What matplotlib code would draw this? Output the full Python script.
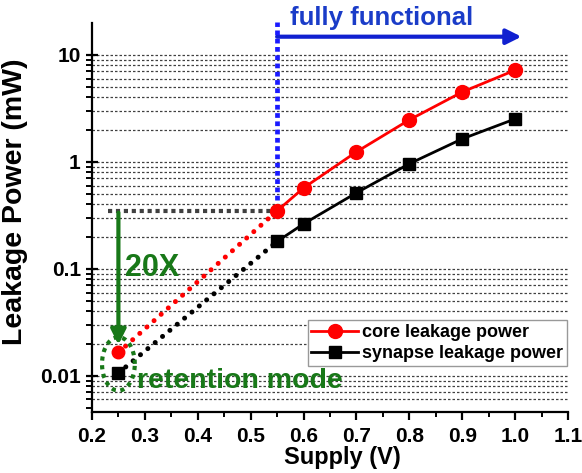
import numpy as np
import matplotlib
matplotlib.use("Agg")
import matplotlib.pyplot as plt
from matplotlib.ticker import FixedLocator, LogLocator, NullFormatter, MultipleLocator

plt.rcParams['font.family'] = ['Liberation Sans', 'DejaVu Sans']
plt.rcParams['font.weight'] = 'bold'

# measured points (Supply V, leakage mW)
supply = [0.55, 0.6, 0.7, 0.8, 0.9, 1.0]
core_power = [0.348, 0.57, 1.24, 2.47, 4.5, 7.2]
synapse_power = [0.18, 0.263, 0.513, 0.96, 1.64, 2.52]

# retention mode point
ret_v = 0.25
ret_core = 0.0165
ret_synapse = 0.0106

x_ticks = [0.2, 0.3, 0.4, 0.5, 0.6, 0.7, 0.8, 0.9, 1.0, 1.1]
y_ticks = [0.01, 0.1, 1, 10]
y_labels = ['0.01', '0.1', '1', '10']

green = '#187818'
blue_txt = '#1a3cc8'
blue_arrow = '#1020d0'

fig = plt.figure(figsize=(5.82, 4.73), dpi=100)
ax = fig.add_axes([0.158, 0.129, 0.818, 0.822])
ax.set_yscale('log')
ax.set_xlim(0.2, 1.1)
ax.set_ylim(0.00458, 19.8)

# dotted grid lines
grid_vals = [m * 10.0 ** e for e in range(-3, 2) for m in range(1, 10)]
for g in grid_vals:
    if 0.0059 <= g <= 10.01:
        ax.axhline(g, color='#404040', lw=0.9, ls=(0, (2, 1.6)), zorder=1)

# extrapolated dotted lines down to retention
ax.plot([ret_v, supply[0]], [ret_core, core_power[0]], color='red', lw=3.6,
        ls=(0, (0.01, 1.9)), dash_capstyle='round', zorder=3)
ax.plot([ret_v, supply[0]], [ret_synapse, synapse_power[0]], color='black', lw=3.6,
        ls=(0, (0.01, 1.9)), dash_capstyle='round', zorder=3)

ax.plot(supply, core_power, color='red', lw=2, marker='o', ms=10,
        label='core leakage power', zorder=5)
ax.plot(supply, synapse_power, color='black', lw=2, marker='s', ms=8,
        label='synapse leakage power', zorder=5)
ax.plot([ret_v], [ret_core], 'o', color='red', ms=9, zorder=5)
ax.plot([ret_v], [ret_synapse], 's', color='black', ms=8, zorder=5)

# gray dotted level line
ax.plot([0.23, 0.542], [core_power[0], core_power[0]], color='#404040', lw=3,
        ls=(0, (1, 0.9)), zorder=4)

# green arrow and labels
ax.annotate('', xy=(ret_v, 0.0195), xytext=(ret_v, 0.335),
            arrowprops=dict(arrowstyle='-|>,head_length=0.9,head_width=0.45',
                            color=green, lw=3, shrinkA=0, shrinkB=0), zorder=6)
ax.text(0.262, 0.102, '20X', color=green, fontsize=22, fontweight='bold',
        ha='left', va='center', zorder=6)
ax.text(0.285, 0.00773, 'retention mode', color=green, fontsize=20.5,
        fontweight='bold', ha='left', va='baseline', zorder=6)
t = np.linspace(0, 2 * np.pi, 200)
ax.plot(ret_v + 0.031 * np.cos(t), 10 ** (np.log10(0.0129) + 0.25 * np.sin(t)),
        color=green, lw=3, ls=(0, (1, 1.1)), zorder=6)

# fully functional annotation
ax.plot([0.55, 0.55], [0.44, 20.5], color='#1a1aff', lw=3.4, ls=(0, (1, 0.75)),
        clip_on=False, zorder=4)
ax.annotate('', xy=(1.012, 14.8), xytext=(0.55, 14.8),
            arrowprops=dict(arrowstyle='-|>,head_length=0.9,head_width=0.45',
                            color=blue_arrow, lw=3, shrinkA=0, shrinkB=0),
            annotation_clip=False)
ax.text(0.574, 19.1, 'fully functional', color=blue_txt, fontsize=18.5,
        fontweight='bold', ha='left', va='baseline', clip_on=False)

# axes styling
for s in ['top', 'right']:
    ax.spines[s].set_visible(False)
for s in ['left', 'bottom']:
    ax.spines[s].set_linewidth(1.6)

ax.xaxis.set_major_locator(FixedLocator(x_ticks))
ax.xaxis.set_minor_locator(MultipleLocator(0.05))
ax.set_xticklabels(['%.1f' % v for v in x_ticks])
ax.yaxis.set_major_locator(FixedLocator(y_ticks))
ax.set_yticklabels(y_labels)
ax.yaxis.set_minor_locator(LogLocator(base=10, subs=np.arange(2, 10), numticks=20))
ax.yaxis.set_minor_formatter(NullFormatter())

ax.tick_params(axis='both', which='major', labelsize=15, width=1.6)
ax.tick_params(axis='x', which='major', direction='out', length=6, pad=5)
ax.tick_params(axis='x', which='minor', direction='out', length=3.5, width=1.4)
ax.tick_params(axis='y', which='major', direction='inout', length=9)
ax.tick_params(axis='y', which='minor', direction='out', length=4, width=1.4)

ax.set_xlabel('Supply (V)', fontsize=17, fontweight='bold')
ax.set_ylabel('Leakage Power (mW)', fontsize=20.5, fontweight='bold')
ax.xaxis.set_label_coords(0.525, -0.088)
ax.yaxis.set_label_coords(-0.135, 0.54)

leg = ax.legend(loc='lower right', bbox_to_anchor=(0.997, 0.118), fontsize=13,
                handlelength=2.6, handletextpad=0.2, borderpad=0.2,
                labelspacing=0.25, borderaxespad=0, fancybox=False,
                framealpha=1, edgecolor='#999999')
leg.get_frame().set_linewidth(1.0)
leg.set_zorder(7)

fig.savefig('out.png', dpi=100)
